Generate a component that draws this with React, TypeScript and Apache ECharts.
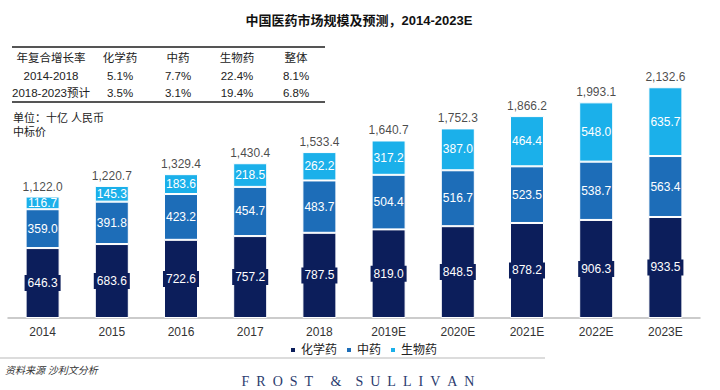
import React, { useEffect, useRef } from "react";
import * as echarts from "echarts";

const years = ["2014", "2015", "2016", "2017", "2018", "2019E", "2020E", "2021E", "2022E", "2023E"];
const chemical = [646.3, 683.6, 722.6, 757.2, 787.5, 819.0, 848.5, 878.2, 906.3, 933.5];
const tcm = [359.0, 391.8, 423.2, 454.7, 483.7, 504.4, 516.7, 523.5, 538.7, 563.4];
const biologic = [116.7, 145.3, 183.6, 218.5, 262.2, 317.2, 387.0, 464.4, 548.0, 635.7];
const totals = [1122.0, 1220.7, 1329.4, 1430.4, 1533.4, 1640.7, 1752.3, 1866.2, 1993.1, 2132.6];

const seriesNames = ["化学药", "中药", "生物药"];
const tableHeader = ["年复合增长率", "化学药", "中药", "生物药", "整体"];
const tableRows = [
  ["2014-2018", "5.1%", "7.7%", "22.4%", "8.1%"],
  ["2018-2023预计", "3.5%", "3.1%", "19.4%", "6.8%"],
];

const title = "中国医药市场规模及预测，2014-2023E";
const unitLines = ["单位：十亿 人民币", "中标价"];
const sourceText = "资料来源 沙利文分析";
const brandText = "F\u00a0\u00a0R\u00a0\u00a0O\u00a0\u00a0S\u00a0\u00a0T\u00a0\u00a0\u00a0\u00a0\u00a0&\u00a0\u00a0\u00a0\u00a0S\u00a0\u00a0U\u00a0\u00a0L\u00a0\u00a0L\u00a0\u00a0I\u00a0\u00a0V\u00a0\u00a0A\u00a0\u00a0N";

const FONT = "'Liberation Sans', Arial, 'Noto Sans CJK SC', sans-serif";
const DARK = "#0c1e5b";
const MID = "#1d6db8";
const LIGHT = "#1bb0ea";

export default function App() {
  const ref = useRef<HTMLDivElement>(null);

  useEffect(() => {
    if (!ref.current) return;
    const chart = echarts.init(ref.current, undefined, { renderer: "svg" });

    const colX = [51, 120, 178, 237, 296];
    const tableGraphics: any[] = [];
    tableGraphics.push({
      type: "line",
      shape: { x1: 12, y1: 47, x2: 325, y2: 47 },
      style: { stroke: "#555", lineWidth: 2 },
    });
    tableGraphics.push({
      type: "line",
      shape: { x1: 12, y1: 102, x2: 325, y2: 102 },
      style: { stroke: "#555", lineWidth: 2 },
    });
    const rowY = [58, 76, 93];
    [tableHeader, ...tableRows].forEach((row, ri) => {
      row.forEach((cell, ci) => {
        tableGraphics.push({
          type: "text",
          x: colX[ci],
          y: rowY[ri],
          style: {
            text: cell,
            fill: "#222",
            font: `11.5px ${FONT}`,
            align: "center",
            verticalAlign: "middle",
          },
        });
      });
    });
    unitLines.forEach((t, i) => {
      tableGraphics.push({
        type: "text",
        x: 13,
        y: 118 + i * 14,
        style: { text: t, fill: "#222", font: `11px ${FONT}`, align: "left", verticalAlign: "middle" },
      });
    });

    const option: any = {
      animation: false,
      backgroundColor: "#ffffff",
      title: {
        text: title,
        left: 354,
        top: 9,
        textAlign: "center",
        textStyle: { fontSize: 13, fontWeight: "bold", color: "#111", fontFamily: FONT },
      },
      legend: {
        data: seriesNames,
        left: 284,
        top: 339,
        icon: "rect",
        itemWidth: 6,
        itemHeight: 6,
        itemGap: 8,
        textStyle: { fontSize: 12, color: "#222", fontFamily: FONT },
      },
      grid: { left: 8, width: 692, top: 87, bottom: 72, containLabel: false },
      xAxis: {
        type: "category",
        data: years,
        axisLine: { lineStyle: { color: "#bbbbbb", width: 1.5 } },
        axisTick: { show: false },
        axisLabel: { fontSize: 12, color: "#333", fontFamily: FONT, margin: 8 },
      },
      yAxis: {
        type: "value",
        min: 0,
        max: 2135,
        show: false,
        splitLine: { show: false },
      },
      series: [
        {
          name: seriesNames[0],
          type: "bar",
          stack: "total",
          data: chemical,
          barWidth: 34,
          itemStyle: { color: DARK, borderColor: "#fff", borderWidth: 1 },
          label: {
            show: true,
            position: "inside",
            color: "#fff",
            fontSize: 12,
            fontFamily: FONT,
            backgroundColor: DARK,
            padding: [2, 3],
            formatter: (p: any) => p.value.toFixed(1),
          },
        },
        {
          name: seriesNames[1],
          type: "bar",
          stack: "total",
          data: tcm,
          barWidth: 34,
          itemStyle: { color: MID, borderColor: "#fff", borderWidth: 1 },
          label: {
            show: true,
            position: "inside",
            color: "#fff",
            fontSize: 12,
            fontFamily: FONT,
            formatter: (p: any) => p.value.toFixed(1),
          },
        },
        {
          name: seriesNames[2],
          type: "bar",
          stack: "total",
          data: biologic,
          barWidth: 34,
          itemStyle: { color: LIGHT, borderColor: "#fff", borderWidth: 1 },
          label: {
            show: true,
            position: "inside",
            color: "#fff",
            fontSize: 12,
            fontFamily: FONT,
            formatter: (p: any) => p.value.toFixed(1),
          },
        },
        {
          name: "合计",
          type: "scatter",
          data: totals,
          symbolSize: 0,
          silent: true,
          label: {
            show: true,
            position: "top",
            distance: 4,
            color: "#1a1a1a",
            fontSize: 12,
            fontFamily: FONT,
            formatter: (p: any) =>
              p.value.toLocaleString("en-US", { minimumFractionDigits: 1, maximumFractionDigits: 1 }),
          },
        },
      ],
      graphic: [
        ...tableGraphics,
        {
          type: "line",
          shape: { x1: 0, y1: 358, x2: 545, y2: 358 },
          style: { stroke: "#d0d0d0", lineWidth: 1.5 },
        },
        {
          type: "text",
          x: 5,
          y: 370,
          style: {
            text: sourceText,
            fill: "#333",
            font: `italic 10px ${FONT}`,
            align: "left",
            verticalAlign: "middle",
          },
        },
        {
          type: "text",
          x: 358,
          y: 381,
          style: {
            text: brandText,
            fill: "#2a3b6e",
            font: `14px 'Liberation Serif', 'DejaVu Serif', serif`,
            align: "center",
            verticalAlign: "middle",
          },
        },
      ],
    };

    chart.setOption(option);
    return () => chart.dispose();
  }, []);

  return (
    <div
      ref={ref}
      style={{ position: "fixed", left: 0, top: 0, width: 720, height: 390, background: "#fff" }}
    />
  );
}
